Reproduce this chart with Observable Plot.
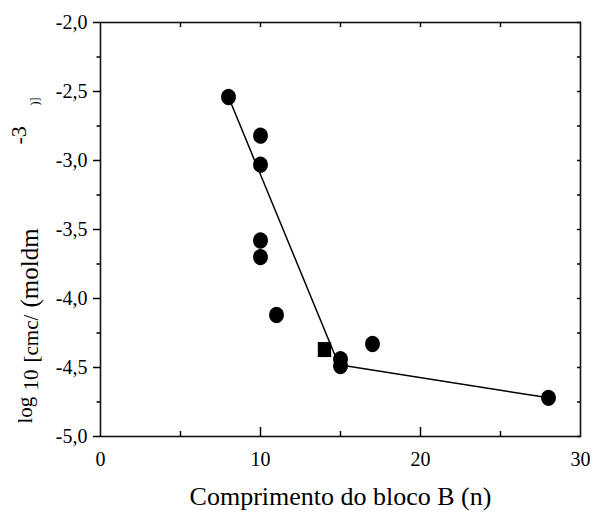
<!DOCTYPE html>
<html><head><meta charset="utf-8">
<script src="https://cdn.jsdelivr.net/npm/d3@7"></script>
<script src="https://cdn.jsdelivr.net/npm/@observablehq/plot@0.6"></script>
<style>body{margin:0;background:#fff}</style>
</head><body><div id="chart"></div>
<script>
const circleX = [8, 10, 10, 10, 10, 11, 15, 15, 17, 28];
const circleY = [-2.54, -2.82, -3.03, -3.58, -3.70, -4.12, -4.44, -4.49, -4.33, -4.72];
const squareX = [14];
const squareY = [-4.37];
const fitX = [8, 14.9, 28];
const fitY = [-2.54, -4.48, -4.72];
const xTicks = [0, 10, 20, 30];
const xMinorTicks = [5, 15, 25];
const yTicks = [-5, -4.5, -4, -3.5, -3, -2.5, -2];
const yMinorTicks = [-4.75, -4.25, -3.75, -3.25, -2.75, -2.25];
const xTitle = "Comprimento do bloco B (n)";
const yLabelParts = ["log", "10", "[cmc/", "(moldm", "-3", ")]"];

const FONT = "Liberation Serif";

const ellipse = {draw(ctx) {
  const rx = 7.4, ry = 8.2, k = 0.5523;
  ctx.moveTo(rx, 0);
  ctx.bezierCurveTo(rx, ry * k, rx * k, ry, 0, ry);
  ctx.bezierCurveTo(-rx * k, ry, -rx, ry * k, -rx, 0);
  ctx.bezierCurveTo(-rx, -ry * k, -rx * k, -ry, 0, -ry);
  ctx.bezierCurveTo(rx * k, -ry, rx, -ry * k, rx, 0);
  ctx.closePath();
}};
const box = {draw(ctx) { ctx.rect(-6.7, -7.5, 13.4, 15); }};

const circles = circleX.map((x, i) => ({x, y: circleY[i]}));
const squares = squareX.map((x, i) => ({x, y: squareY[i]}));
const fit = fitX.map((x, i) => ({x, y: fitY[i]}));
const fmtY = d => d.toFixed(1).replace(".", ",");

// y-axis label pieces: offsets from the bottom-left corner of the frame (px)
const labelStyle = [
  {dx: -69, dy: -13, s: 21},
  {dx: -63, dy: -46, s: 21},
  {dx: -63, dy: -74, s: 21},
  {dx: -63, dy: -129, s: 25},
  {dx: -75, dy: -292, s: 22},
  {dx: -62, dy: -331, s: 12}
];
const labelMarks = yLabelParts.map((t, i) => Plot.text([t], {
  frameAnchor: "bottom-left", dx: labelStyle[i].dx, dy: labelStyle[i].dy,
  rotate: -90, textAnchor: "start", lineAnchor: "bottom",
  fontSize: labelStyle[i].s, fontFamily: FONT, fill: "#000"
}));

const plot = Plot.plot({
  width: 594, height: 515,
  marginLeft: 100, marginRight: 14, marginTop: 22, marginBottom: 79,
  style: {fontFamily: FONT, fontSize: "20px", color: "#000", background: "#fff"},
  x: {domain: [0, 30]},
  y: {domain: [-5, -2]},
  marks: [
    Plot.axisY({ticks: yTicks, anchor: "left", tickSize: 7, tickPadding: 6, tickFormat: fmtY, fontSize: 20, fontFamily: FONT, label: null, strokeWidth: 1.5}),
    Plot.axisY({ticks: yMinorTicks, anchor: "left", tickSize: 3.5, fill: "none", label: null, strokeWidth: 1.5}),
    Plot.axisY({ticks: yTicks.concat(yMinorTicks), anchor: "right", tickSize: 4, insetRight: 4, fill: "none", label: null, strokeWidth: 1.5}),
    Plot.axisX({ticks: xTicks, anchor: "bottom", tickSize: 0, tickPadding: 15, tickFormat: d => String(d), fontSize: 20, fontFamily: FONT, label: null}),
    Plot.axisX({ticks: xTicks.slice(1, 3), anchor: "bottom", tickSize: 9, insetBottom: 9, fill: "none", label: null, strokeWidth: 1.5}),
    Plot.axisX({ticks: xMinorTicks, anchor: "bottom", tickSize: 5, insetBottom: 5, fill: "none", label: null, strokeWidth: 1.5}),
    Plot.axisX({ticks: xMinorTicks.concat(xTicks.slice(1, 3)), anchor: "top", tickSize: 4, insetTop: 4, fill: "none", label: null, strokeWidth: 1.5}),
    Plot.frame({stroke: "#111", strokeWidth: 1.6}),
    Plot.line(fit, {x: "x", y: "y", stroke: "#000", strokeWidth: 1.5}),
    Plot.dot(circles, {x: "x", y: "y", symbol: ellipse, fill: "#000", stroke: "none"}),
    Plot.dot(squares, {x: "x", y: "y", symbol: box, fill: "#000", stroke: "none"}),
    Plot.text([xTitle], {frameAnchor: "bottom", dy: 68, fontSize: 26, fontFamily: FONT, fill: "#000"}),
    ...labelMarks
  ]
});

document.getElementById("chart").appendChild(plot);
</script>
</body></html>
